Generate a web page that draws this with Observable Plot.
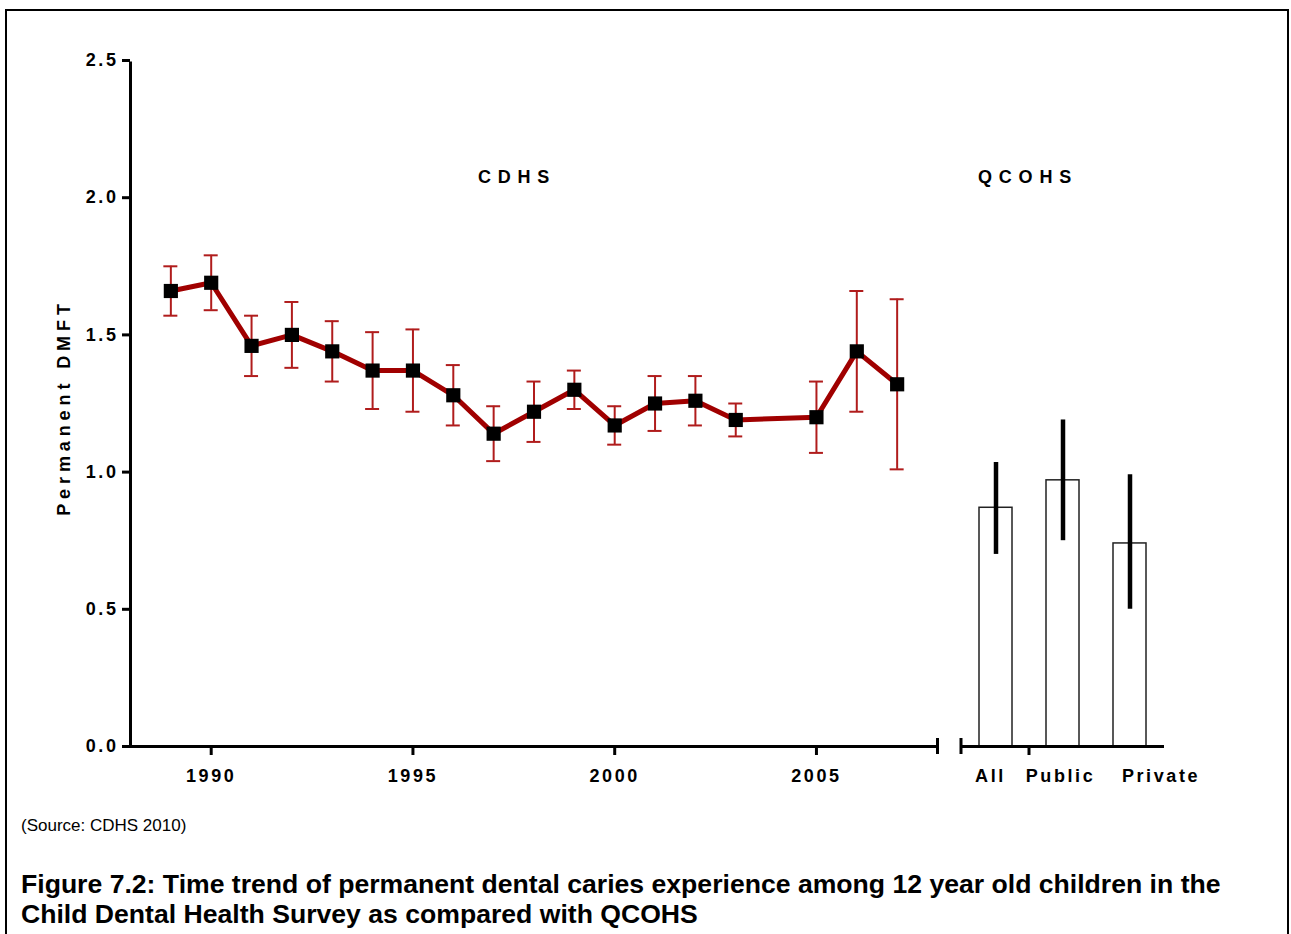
<!DOCTYPE html>
<html>
<head>
<meta charset="utf-8">
<script src="https://cdn.jsdelivr.net/npm/d3@7"></script>
<script src="https://cdn.jsdelivr.net/npm/@observablehq/plot@0.6"></script>
<style>
  html, body { margin: 0; padding: 0; background: #fff; }
  body { width: 1291px; height: 934px; position: relative; overflow: hidden; font-family: "Liberation Sans", Arial, sans-serif; }
  #frame { position: absolute; left: 5px; top: 9px; width: 1284px; height: 1000px; border: 2px solid #000; box-sizing: border-box; }
  #left, #right { position: absolute; top: 0; }
  #left { left: 0; }
  #right { left: 945px; }
  svg text { font-family: "Liberation Sans", Arial, sans-serif; font-weight: bold; font-size: 18px; fill: #000; }
  g[aria-label$="tick label"] text { letter-spacing: 2.6px; }
  g[aria-description="group label"] text { letter-spacing: 2.6px; }
  g[aria-description="y title"] text { letter-spacing: 4.9px; }
  g[aria-description="section title"] text { letter-spacing: 6.8px; }
  #source { position: absolute; left: 21px; top: 816px; font-size: 17px; line-height: 20px; color: #000; white-space: nowrap; }
  #caption { position: absolute; left: 21px; top: 869px; font-size: 26.6px; line-height: 30px; font-weight: bold; color: #000; white-space: nowrap; }
</style>
</head>
<body>
<div id="frame"></div>
<div id="left"></div>
<div id="right"></div>
<div id="source">(Source: CDHS 2010)</div>
<div id="caption">Figure 7.2: Time trend of permanent dental caries experience among 12 year old children in the<br>Child Dental Health Survey as compared with QCOHS</div>
<script>
// ---- Data ----
const years = [1989, 1990, 1991, 1992, 1993, 1994, 1995, 1996, 1997, 1998, 1999, 2000, 2001, 2002, 2003, 2005, 2006, 2007];
const dmft  = [1.66, 1.69, 1.46, 1.50, 1.44, 1.37, 1.37, 1.28, 1.14, 1.22, 1.30, 1.17, 1.25, 1.26, 1.19, 1.20, 1.44, 1.32];
const lower = [1.57, 1.59, 1.35, 1.38, 1.33, 1.23, 1.22, 1.17, 1.04, 1.11, 1.23, 1.10, 1.15, 1.17, 1.13, 1.07, 1.22, 1.01];
const upper = [1.75, 1.79, 1.57, 1.62, 1.55, 1.51, 1.52, 1.39, 1.24, 1.33, 1.37, 1.24, 1.35, 1.35, 1.25, 1.33, 1.66, 1.63];

const groups      = ["All", "Public", "Private"];
const groupDmft   = [0.87, 0.97, 0.74];
const groupLower  = [0.70, 0.75, 0.50];
const groupUpper  = [1.035, 1.19, 0.99];

const xDomain = [1988, 2008];
const xTicks  = [1990, 1995, 2000, 2005];
const yDomain = [0, 2.5];
const yTicks  = [0, 0.5, 1.0, 1.5, 2.0, 2.5];
const yTitle  = "Permanent DMFT";
const leftTitle = "CDHS";
const rightTitle = "QCOHS";

// ---- Styles ----
const lineColor = "#a00000";
const errColor  = "#b01c1c";
const labelNudge = {All: -5.5, Public: -2.5, Private: 31};
const FS = 18;

const cdhs  = years.map((year, i) => ({year, dmft: dmft[i], lo: lower[i], hi: upper[i]}));
const qcohs = groups.map((group, i) => ({group, dmft: groupDmft[i], lo: groupLower[i], hi: groupUpper[i]}));

const svgStyle = {fontFamily: "Liberation Sans, Arial, sans-serif", background: "transparent", overflow: "visible", color: "#000"};

const left = Plot.plot({
  width: 945, height: 800,
  marginLeft: 130, marginRight: 8, marginTop: 60, marginBottom: 54,
  style: svgStyle,
  x: {domain: xDomain, axis: null},
  y: {domain: yDomain, axis: null},
  marks: [
    Plot.axisY({ticks: yTicks, tickSize: 8, tickPadding: 4, tickFormat: d3.format(".1f"), fontSize: FS, fontWeight: "bold", strokeWidth: 3, label: null}),
    Plot.axisX({ticks: xTicks, tickSize: 9, tickPadding: 14, tickFormat: d => String(d), fontSize: FS, fontWeight: "bold", strokeWidth: 3, label: null}),
    Plot.ruleX([xDomain[0]], {y1: yDomain[0], y2: yDomain[1], strokeWidth: 3, insetBottom: -1.5}),
    Plot.ruleY([yDomain[0]], {x1: xDomain[0], x2: xDomain[1], strokeWidth: 3, insetLeft: -1.5}),
    Plot.ruleX([xDomain[1]], {y1: yDomain[0], y2: yDomain[0], insetTop: -8, insetBottom: -8, strokeWidth: 3}),
    Plot.ruleX(cdhs, {x: "year", y1: "lo", y2: "hi", stroke: errColor, strokeWidth: 2}),
    Plot.ruleY(cdhs, {y: "hi", x1: "year", x2: "year", insetLeft: -7, insetRight: -7, stroke: errColor, strokeWidth: 2}),
    Plot.ruleY(cdhs, {y: "lo", x1: "year", x2: "year", insetLeft: -7, insetRight: -7, stroke: errColor, strokeWidth: 2}),
    Plot.line(cdhs, {x: "year", y: "dmft", stroke: lineColor, strokeWidth: 5}),
    Plot.dot(cdhs, {x: "year", y: "dmft", symbol: "square", r: 8, fill: "#000", stroke: "none"}),
    Plot.text([yTitle], {text: d => d, frameAnchor: "left", textAnchor: "middle", lineAnchor: "middle", dx: -66, dy: 4, rotate: -90, fontSize: FS, fontWeight: "bold", ariaDescription: "y title"}),
    Plot.text([leftTitle], {text: d => d, frameAnchor: "top", textAnchor: "middle", lineAnchor: "middle", dx: -17, dy: 117, fontSize: FS, fontWeight: "bold", ariaDescription: "section title"})
  ]
});
document.getElementById("left").append(left);

const right = Plot.plot({
  width: 346, height: 800,
  marginLeft: 16, marginRight: 127, marginTop: 60, marginBottom: 54,
  style: svgStyle,
  x: {domain: groups, axis: null, paddingInner: 0.507, paddingOuter: 0.268},
  y: {domain: yDomain, axis: null},
  marks: [
    Plot.barY(qcohs, {x: "group", y: "dmft", fill: "#fff", stroke: "#222", strokeWidth: 1.5}),
    Plot.ruleX(qcohs, {x: "group", y1: "lo", y2: "hi", stroke: "#000", strokeWidth: 4.5}),
    Plot.ruleY([yDomain[0]], {strokeWidth: 3}),
    (index, scales, values, dim) => {
      // axis-break tick at the start of the category axis, and the minor tick between the first two bars
      const g = d3.create("svg:g");
      const y0 = scales.y(yDomain[0]);
      g.append("line").attr("x1", dim.marginLeft).attr("x2", dim.marginLeft)
        .attr("y1", y0 - 8).attr("y2", y0 + 8).attr("stroke", "#000").attr("stroke-width", 3);
      const mid = (scales.x(groups[0]) + scales.x.bandwidth() + scales.x(groups[1])) / 2;
      g.append("line").attr("x1", mid).attr("x2", mid)
        .attr("y1", y0).attr("y2", y0 + 9).attr("stroke", "#000").attr("stroke-width", 3);
      return g.node();
    },
    ...groups.map(gName => Plot.text([gName], {text: d => d, x: d => d, frameAnchor: "bottom", textAnchor: "middle", lineAnchor: "middle", dy: 30, dx: labelNudge[gName], fontSize: FS, fontWeight: "bold", ariaDescription: "group label"})),
    Plot.text([rightTitle], {text: d => d, frameAnchor: "top", textAnchor: "middle", lineAnchor: "middle", dx: -35, dy: 117, fontSize: FS, fontWeight: "bold", ariaDescription: "section title"})
  ]
});
document.getElementById("right").append(right);
</script>
</body>
</html>
